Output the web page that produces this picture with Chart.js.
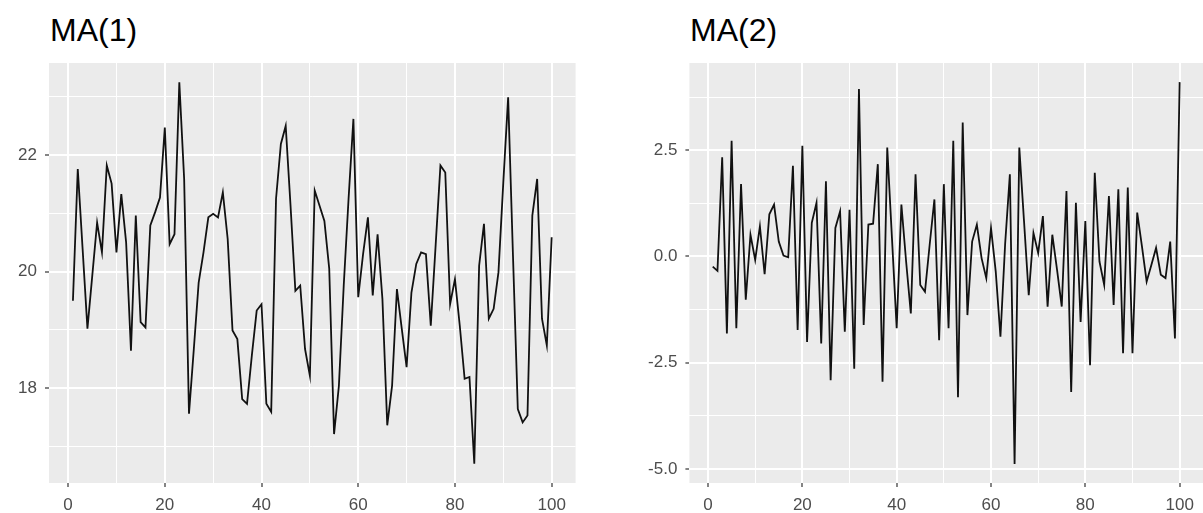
<!DOCTYPE html>
<html>
<head>
<meta charset="utf-8">
<script src="https://cdn.jsdelivr.net/npm/chart.js@4.4.1/dist/chart.umd.min.js"></script>
<style>
    body { margin: 0; background: #fff; width: 1203px; height: 513px; overflow: hidden; position: relative; font-family: 'Liberation Sans', Arial, sans-serif; }
    .title { position: absolute; top: 12px; font-size: 32px; color: #000; }
    .panel { position: absolute; top: 0; height: 513px; }
</style>
</head>
<body>
<div class="title" style="left:50px">MA(1)</div>
<div class="title" style="left:690px">MA(2)</div>
<div class="panel" style="left:0;width:580px"><canvas id="ma1Chart" width="580" height="513"></canvas></div>
<div class="panel" style="left:600px;width:603px"><canvas id="ma2Chart" width="603" height="513"></canvas></div>
<script>
const ma1Values = [
    19.50, 21.76, 20.39, 19.02, 19.93, 20.84, 20.33, 21.82, 21.51, 20.33,
    21.33, 20.50, 18.64, 20.96, 19.13, 19.04, 20.79, 21.02, 21.27, 22.47,
    20.47, 20.64, 23.25, 21.59, 17.56, 18.67, 19.81, 20.33, 20.93, 20.99,
    20.93, 21.36, 20.56, 18.99, 18.84, 17.81, 17.73, 18.56, 19.33, 19.44,
    17.73, 17.59, 21.25, 22.19, 22.50, 21.13, 19.67, 19.76, 18.67, 18.21,
    21.39, 21.13, 20.87, 20.05, 17.21, 18.04, 19.76, 21.25, 22.62, 19.56,
    20.30, 20.93, 19.59, 20.64, 19.53, 17.36, 18.04, 19.70, 19.02, 18.36,
    19.64, 20.13, 20.33, 20.30, 19.07, 20.44, 21.82, 21.70, 19.44, 19.87,
    19.07, 18.16, 18.19, 16.70, 20.10, 20.82, 19.19, 19.36, 19.99, 21.53,
    22.99, 20.27, 17.64, 17.41, 17.53, 20.96, 21.59, 19.19, 18.73, 20.59
];

const ma2Values = [
    -0.24, -0.34, 2.33, -1.81, 2.72, -1.69, 1.70, -1.02, 0.51, -0.08,
    0.71, -0.42, 0.99, 1.22, 0.35, 0.02, -0.02, 2.13, -1.73, 2.60,
    -2.01, 0.79, 1.26, -2.05, 1.77, -2.91, 0.67, 1.06, -1.77, 1.10,
    -2.64, 3.94, -1.61, 0.75, 0.77, 2.17, -2.95, 2.56, 0.43, -1.69,
    1.22, -0.12, -1.34, 1.93, -0.67, -0.83, 0.28, 1.34, -1.97, 1.70,
    -1.69, 2.72, -3.31, 3.15, -1.38, 0.35, 0.75, -0.04, -0.51, 0.67,
    -0.35, -1.89, 0.30, 1.93, -4.88, 2.56, 0.83, -0.91, 0.55, 0.08,
    0.95, -1.18, 0.51, -0.31, -1.18, 1.54, -3.19, 1.26, -1.54, 0.83,
    -2.56, 1.97, -0.12, -0.67, 1.42, -1.14, 1.58, -2.28, 1.62, -2.28,
    1.03, 0.24, -0.59, -0.20, 0.20, -0.43, -0.51, 0.35, -1.93, 4.10
];

const xMajorTicks = [0, 20, 40, 60, 80, 100];
const xMinorTicks = [10, 30, 50, 70, 90];
const ma1MajorTicks = [18, 20, 22];
const ma1MinorTicks = [17, 19, 21, 23];
const ma2MajorTicks = [-5, -2.5, 0, 2.5];
const ma2MinorTicks = [-3.75, -1.25, 1.25, 3.75];

// ggplot-style grey panel behind the grid
const panelBackground = {
    id: 'panelBackground',
    beforeDraw(chart) {
        const { ctx, chartArea } = chart;
        ctx.save();
        ctx.fillStyle = '#EBEBEB';
        ctx.fillRect(chartArea.left, chartArea.top, chartArea.right - chartArea.left, chartArea.bottom - chartArea.top);
        ctx.restore();
    }
};

function axisOptions(min, max, major, minor, size, label) {
    const isMajor = v => major.includes(v);
    return {
        type: 'linear',
        min: min,
        max: max,
        afterBuildTicks: axis => {
            axis.ticks = [...minor, ...major].sort((a, b) => a - b).map(v => ({ value: v }));
        },
        afterFit: axis => {
            if (axis.isHorizontal()) axis.height = size; else axis.width = size;
        },
        border: { display: false },
        grid: {
            color: '#FFFFFF',
            lineWidth: c => isMajor(c.tick.value) ? 2 : 1,
            tickColor: c => isMajor(c.tick.value) ? '#333333' : 'rgba(0,0,0,0)',
            tickLength: 4,
            tickWidth: 1.2
        },
        ticks: {
            autoSkip: false,
            maxRotation: 0,
            padding: 8,
            color: '#4D4D4D',
            font: { family: "'Liberation Sans', Arial, sans-serif", size: 17 },
            callback: v => isMajor(v) ? label(v) : ''
        }
    };
}

function createChart(config) {
    const ctx = document.getElementById(config.elementId).getContext('2d');
    return new Chart(ctx, {
        type: 'line',
        data: {
            datasets: [{
                data: config.values.map((v, i) => ({ x: i + 1, y: v })),
                borderColor: '#111111',
                borderWidth: 1.8,
                pointRadius: 0,
                tension: 0,
                fill: false
            }]
        },
        options: {
            responsive: false,
            animation: false,
            layout: { padding: { top: 63, right: config.padRight, bottom: 0, left: 0 } },
            plugins: { legend: { display: false }, tooltip: { enabled: false } },
            scales: {
                x: axisOptions(-3.95, 104.95, xMajorTicks, xMinorTicks, 30, v => String(v)),
                y: axisOptions(config.yMin, config.yMax, config.yMajor, config.yMinor, config.yWidth, config.yLabel)
            }
        },
        plugins: [panelBackground]
    });
}

createChart({ elementId: 'ma1Chart', values: ma1Values, yMin: 16.37, yMax: 23.58, yMajor: ma1MajorTicks, yMinor: ma1MinorTicks, yWidth: 49, padRight: 4.4, yLabel: v => String(v) });
createChart({ elementId: 'ma2Chart', values: ma2Values, yMin: -5.33, yMax: 4.55, yMajor: ma2MajorTicks, yMinor: ma2MinorTicks, yWidth: 89.4, padRight: 0, yLabel: v => v.toFixed(1) });
</script>
</body>
</html>
